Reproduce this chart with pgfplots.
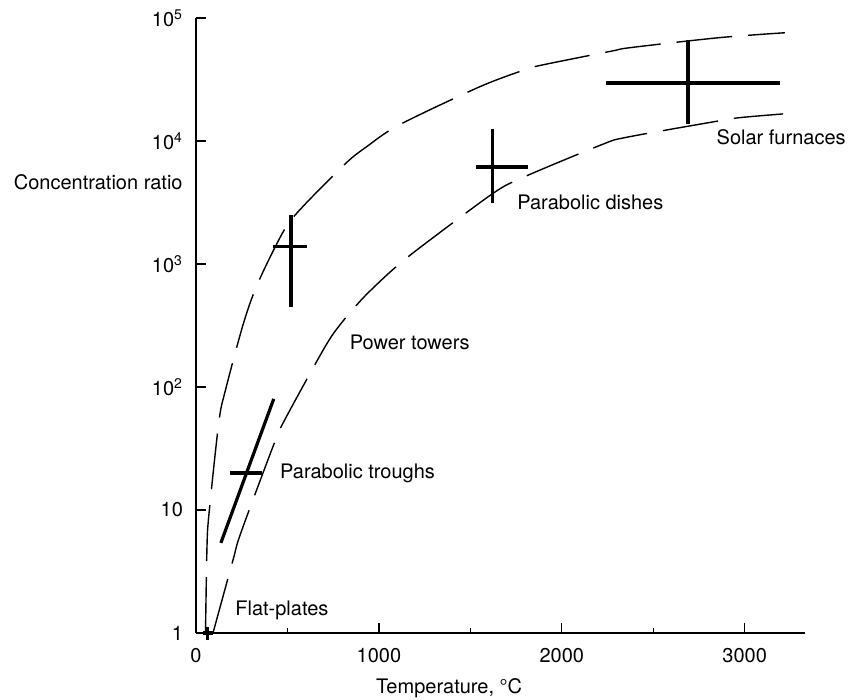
\documentclass[border=0pt]{standalone}
\usepackage{fontspec}
\setmainfont{TeX Gyre Heros}
\usepackage{pgfplots}
\pgfplotsset{compat=1.18}

\tikzset{
  guide/.style={black, line width=0.7pt, dash pattern=on 28pt off 8pt, smooth},
  crossbar/.style={black, line width=1.6pt},
  lbl/.style={anchor=west, inner sep=0pt, font=\fontsize{10}{12}\selectfont},
}

\begin{document}
\begin{tikzpicture}
\path[use as bounding box] (-98pt,-33.5pt) rectangle (330.5pt,316.5pt);
\begin{axis}[
  at={(0,0)}, anchor=south west,
  scale only axis, width=304.5pt, height=307.5pt,
  ymode=log, xmin=0, xmax=3330, ymin=1, ymax=1e5,
  axis lines=left, axis line style={-, line width=1.3pt},
  clip=false,
  tick align=inside,
  xtick={0,1000,2000,3000}, xticklabels={0,1000,2000,3000},
  minor xtick={500,1500,2500},
  ytick={1,10,100,1000,10000,100000},
  yticklabels={1,10,10\textsuperscript{2},10\textsuperscript{3},10\textsuperscript{4},10\textsuperscript{5}},
  yminorticks=false,
  major tick length=5pt, minor tick length=2.5pt,
  every tick/.append style={black, line width=0.7pt},
  xticklabel style={yshift=-4pt},
  yticklabel style={xshift=-3pt},
  tick label style={font=\fontsize{10}{12}\selectfont},
]
% upper and lower bounds of the concentration band
\addplot[guide] coordinates {(52,1) (60,5.0) (71,9.3) (125,52) (160,93) (260,331) (340,708)
  (480,1862) (580,2884) (820,6607) (930,8913) (1110,13490) (1550,27540) (1800,38020)
  (1900,41690) (2270,53700) (2380,57540) (2860,69180) (3220,75860)};
\addplot[guide] coordinates {(93,1) (202,3.9) (245,6.5) (425,34) (485,54) (703,209) (790,324)
  (905,513) (1014,741) (1112,1000) (1248,1445) (1620,3715) (1782,5012) (2218,9330)
  (2354,10715) (2845,14450) (2975,15490) (3210,16600)};

% flat-plates
\addplot[crossbar] coordinates {(40,1) (95,1)};
\addplot[crossbar] coordinates {(65,0.88) (65,1.12)};
% parabolic troughs
\addplot[crossbar] coordinates {(136,5.4) (425,80)};
\addplot[crossbar] coordinates {(185,20) (360,20)};
% power towers
\addplot[crossbar] coordinates {(420,1380) (605,1380)};
\addplot[crossbar] coordinates {(520,447) (520,2500)};
% parabolic dishes
\addplot[crossbar] coordinates {(1531,6150) (1815,6150)};
\addplot[crossbar] coordinates {(1620,3150) (1620,12500)};
% solar furnaces
\addplot[crossbar] coordinates {(2240,29600) (3193,29600)};
\addplot[crossbar] coordinates {(2690,13700) (2690,66000)};

\node[lbl] at (axis cs:2845,10700) {Solar furnaces};
\node[lbl] at (axis cs:1755,3190) {Parabolic dishes};
\node[lbl] at (axis cs:839,232) {Power towers};
\node[lbl] at (axis cs:458,20) {Parabolic troughs};
\node[lbl] at (axis cs:213,1.54) {Flat-plates};
\node[lbl, anchor=east] at (axis cs:0,4640) [xshift=-6.5pt] {Concentration ratio};
\node[inner sep=0pt, font=\fontsize{10}{12}\selectfont] at (axis cs:1384,1) [yshift=-27.5pt] {Temperature, °C};
\end{axis}
\end{tikzpicture}
\end{document}
